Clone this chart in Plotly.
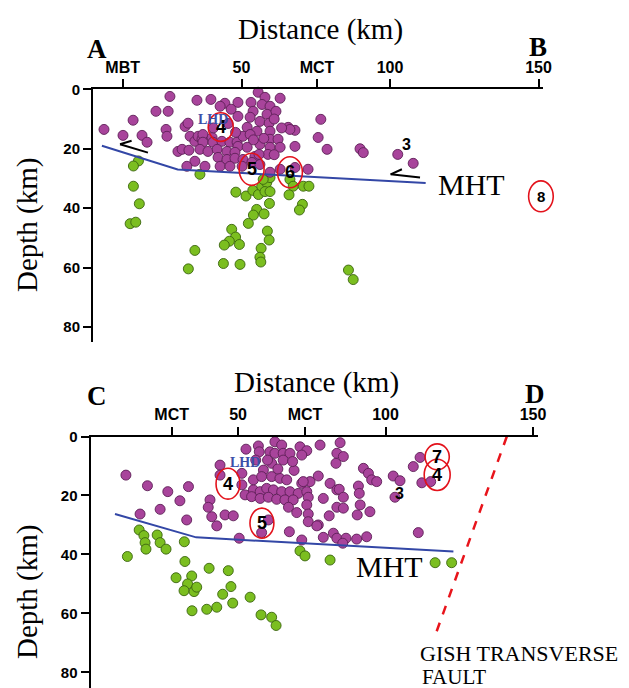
import numpy as np
import plotly.graph_objects as go

# ---------------- DATA ----------------
# Panel A-B : magenta (crustal) events, distance km / depth km
p1_mag_x = [25.9, 35.0, 39.7, 44.4, 42.8, 48.8, 46.5, 53.2, 55.6, 57.9, 56.9, 59.6, 63.0, 48.8, 53.9,
            58.6, 61.6, 52.9, 56.2, 59.3, 51.9, 55.2, 59.6, 65.7, 68.0, 21.2, 25.3, 13.5, 3.7, 10.1,
            16.5, 18.2, 24.6, 24.9, 31.0, 32.0, 32.7, 34.3, 35.4, 36.7, 37.0, 40.1, 37.0, 40.4, 43.4,
            46.1, 48.5, 50.5, 52.9, 48.8, 51.9, 56.2, 59.6, 62.3, 59.6, 63.0, 68.0, 66.3, 28.6, 30.0,
            32.3, 36.0, 38.7, 41.8, 45.1, 47.8, 42.1, 45.1, 47.8, 54.5, 58.9, 55.9, 50.5, 34.3, 31.6,
            37.7, 42.8, 46.1, 50.2, 53.5, 56.2, 59.6, 63.0, 68.0, 72.4, 76.7, 75.8, 78.8, 89.9, 91.0,
            102.6, 107.8, 61.0, 63.5, 57.5, 54.0, 61.0, 45.5, 40.5, 48.0]
p1_mag_d = [2.4, 3.7, 3.4, 4.7, 5.7, 4.4, 6.7, 4.4, 1.0, 2.7, 5.1, 5.7, 3.0, 9.1, 7.4,
            8.4, 7.4, 9.4, 10.8, 11.4, 12.8, 14.1, 14.1, 12.8, 13.8, 7.4, 7.4, 10.4, 13.5, 15.5,
            15.5, 17.8, 13.5, 15.8, 12.5, 11.4, 15.8, 17.5, 15.8, 16.8, 15.2, 16.2, 17.8, 17.8, 17.5,
            17.8, 17.8, 15.8, 15.2, 19.2, 19.5, 18.5, 16.8, 16.8, 19.5, 19.5, 19.2, 13.5, 20.9, 20.2,
            20.5, 20.2, 20.9, 20.2, 20.9, 21.2, 22.9, 23.6, 23.2, 22.6, 21.9, 21.9, 23.6, 24.2, 25.9,
            25.9, 25.9, 25.9, 25.9, 24.6, 25.3, 27.9, 26.9, 26.3, 26.9, 10.1, 16.2, 20.2, 20.0, 21.3,
            21.9, 24.9, 10.0, 13.0, 16.5, 17.0, 22.0, 11.5, 13.0, 14.5]

# Panel A-B : green (deep) events
p1_grn_x = [15.3, 13.6, 36.0, 13.6, 15.6, 12.5, 14.4, 48.1, 51.5, 53.8, 55.7, 56.8, 58.5, 59.6, 57.9,
            59.6, 59.4, 55.1, 54.0, 57.6, 52.3, 46.7, 48.0, 45.9, 44.2, 49.3, 58.7, 59.3, 56.6, 56.2,
            56.5, 34.3, 32.1, 43.9, 49.5, 66.3, 67.4, 66.0, 70.8, 72.7, 70.5, 69.5, 86.0, 87.6, 57.3]
p1_grn_d = [24.1, 25.8, 28.6, 32.6, 38.5, 45.2, 44.7, 34.6, 35.9, 34.0, 35.4, 32.6, 31.4, 29.7, 34.4,
            34.4, 38.4, 40.4, 42.3, 41.9, 45.1, 47.1, 49.7, 51.1, 52.4, 52.2, 47.7, 50.7, 53.5, 56.5,
            58.1, 54.2, 60.4, 58.6, 58.9, 30.3, 32.6, 35.5, 32.6, 32.6, 38.7, 40.6, 60.8, 64.0, 30.3]

# Panel C-D : magenta events
p2_mag_x = [12.0, 19.3, 26.2, 33.2, 30.3, 23.6, 16.8, 32.6, 42.8, 45.6, 48.4, 41.1, 40.5, 39.9, 43.9,
            43.9, 51.3, 51.3, 52.4, 52.7, 56.9, 57.2, 58.6, 61.4, 62.5, 64.8, 60.8, 62.5, 65.3, 67.6,
            65.3, 71.0, 73.3, 71.6, 77.8, 83.5, 55.2, 58.0, 61.4, 64.2, 66.5, 71.6, 74.4, 77.2, 81.2,
            83.5, 55.2, 57.5, 59.7, 62.0, 64.8, 67.6, 70.4, 73.3, 54.6, 57.5, 60.3, 63.1, 65.9, 68.7,
            73.8, 78.9, 67.1, 69.9, 73.3, 73.8, 73.8, 77.2, 80.9, 83.5, 67.4, 58.0, 60.3, 71.6, 78.9,
            82.3, 83.5, 50.4, 84.6, 85.7, 83.2, 92.5, 94.2, 95.3, 97.0, 102.6, 104.9, 103.2, 109.4,
            111.7, 112.3, 115.3, 111.1, 84.3, 85.7, 90.8, 91.1, 85.7, 91.4, 90.4, 94.7, 76.7, 86.6,
            85.5, 90.2, 93.6, 72.1, 60.0, 63.5, 69.0, 68.5, 56.0]
p2_mag_d = [13.1, 16.7, 18.7, 17.0, 21.8, 24.7, 26.3, 28.3, 30.3, 26.6, 26.9, 27.2, 21.5, 24.0, 9.7,
            13.1, 12.5, 16.4, 19.8, 4.3, 3.2, 5.2, 11.4, 9.1, 1.8, 2.9, 5.2, 5.7, 5.7, 5.7,
            8.0, 3.5, 4.8, 6.3, 2.9, 5.7, 14.7, 13.6, 13.6, 14.2, 14.7, 15.9, 15.3, 13.4, 15.9,
            18.1, 18.1, 18.7, 17.6, 18.1, 18.7, 18.7, 19.3, 18.7, 20.4, 21.0, 20.6, 21.3, 21.5, 21.5,
            20.6, 21.0, 24.0, 25.8, 23.2, 26.3, 28.9, 30.0, 26.9, 24.0, 32.3, 32.6, 28.3, 35.1, 34.2,
            32.8, 34.5, 34.5, 2.1, 6.8, 9.1, 10.8, 12.5, 14.7, 15.3, 13.4, 15.0, 20.6, 10.2,
            7.1, 15.7, 15.3, 32.6, 17.9, 20.6, 16.8, 19.3, 24.3, 23.2, 26.6, 25.5, 30.3, 34.5,
            36.2, 34.8, 34.0, 15.3, 8.0, 11.0, 11.5, 8.5, 8.0]

# Panel C-D : green events
p2_grn_x = [16.5, 18.1, 18.5, 18.8, 12.5, 22.6, 23.6, 25.6, 31.8, 32.0, 29.0, 34.3, 32.9, 31.7, 35.1,
            36.0, 40.2, 46.7, 47.6, 44.8, 48.2, 42.8, 39.4, 34.4, 54.1, 57.8, 61.4, 62.9, 71.0, 72.7,
            81.2, 116.8, 122.4]
p2_grn_d = [31.7, 33.6, 36.0, 38.2, 40.7, 33.4, 36.0, 38.2, 35.7, 42.4, 47.9, 47.3, 50.0, 52.3, 52.6,
            51.1, 44.7, 45.5, 50.9, 53.5, 56.5, 57.9, 58.6, 59.1, 54.5, 60.5, 61.3, 64.1, 38.8, 40.5,
            41.9, 42.8, 42.8]

# MHT traces
mht1_x = [3.0, 28.5, 112.0]
mht1_d = [19.0, 27.0, 31.5]
mht2_x = [8.3, 35.8, 123.0]
mht2_d = [26.3, 34.2, 39.0]

# Gish transverse fault
gish_x = [141.1, 117.1]
gish_d = [0.0, 66.7]

# slip arrows (shaft tail, tip, barb end)
arrow1_x = [18.5, 9.1, 13.0]
arrow1_d = [21.3, 18.5, 17.3]
arrow2_x = [110.1, 100.2, 104.0]
arrow2_d = [29.7, 28.6, 26.9]

# tick labels
p1_tickvals = [10, 50, 75.4, 100, 150]
p1_ticktext = ["MBT", "50", "MCT", "100", "150"]
p2_tickvals = [27.5, 50, 72.7, 100, 150]
p2_ticktext = ["MCT", "50", "MCT", "100", "150"]
depth_ticks = [0, 20, 40, 60, 80]

# circled event labels: (label, x, depth, half-width km, half-height km)
p1_circles = [("4", 43.0, 12.7, 4.2, 4.8), ("5", 53.4, 26.9, 4.2, 5.4), ("6", 66.3, 27.9, 4.2, 5.2),
              ("8", 150.8, 36.0, 4.15, 5.2)]
p2_circles = [("4", 46.6, 16.0, 4.05, 5.25), ("5", 58.1, 29.4, 4.05, 5.1), ("7", 117.5, 6.9, 4.1, 4.4),
              ("4", 117.5, 13.0, 4.4, 5.3)]

# ---------------- STYLE ----------------
W, H = 629, 688
MAG, MAG_EDGE = "#A8449B", "#5E1F57"
GRN, GRN_EDGE = "#7BBE20", "#3B6410"
SERIF = "Liberation Serif"
SANS = "Liberation Sans"

X1_DOM = [93 / W, 543 / W]
Y1_DOM = [1 - 342 / H, 1 - 89.3 / H]
X2_DOM = [90.5 / W, 537.5 / W]
Y2_DOM = [0.0, 1 - 436.5 / H]
XR = [0, 151.5]

fig = go.Figure()


def scatter(x, y, fill, edge, ax):
    fig.add_trace(go.Scatter(x=x, y=y, mode="markers", xaxis="x" + ax, yaxis="y" + ax,
                             marker=dict(size=10, color=fill, line=dict(color=edge, width=0.9)),
                             cliponaxis=False, hoverinfo="skip"))


def line(x, y, ax, color, width, dash="solid"):
    fig.add_trace(go.Scatter(x=x, y=y, mode="lines", xaxis="x" + ax, yaxis="y" + ax,
                             line=dict(color=color, width=width, dash=dash), hoverinfo="skip"))


# panel 1
scatter(p1_grn_x, p1_grn_d, GRN, GRN_EDGE, "")
scatter(p1_mag_x, p1_mag_d, MAG, MAG_EDGE, "")
line(mht1_x, mht1_d, "", "#3347A6", 2)
line(arrow1_x[:2], arrow1_d[:2], "", "black", 2)
line(arrow1_x[1:], arrow1_d[1:], "", "black", 2)
line(arrow2_x[:2], arrow2_d[:2], "", "black", 2)
line(arrow2_x[1:], arrow2_d[1:], "", "black", 2)

# panel 2
scatter(p2_grn_x, p2_grn_d, GRN, GRN_EDGE, "2")
scatter(p2_mag_x, p2_mag_d, MAG, MAG_EDGE, "2")
line(mht2_x, mht2_d, "2", "#3347A6", 2)
line(gish_x, gish_d, "2", "#E8141B", 2.5, dash="dash")


def x_paper(x, dom):
    return dom[0] + (x - XR[0]) / (XR[1] - XR[0]) * (dom[1] - dom[0])


def y_paper(d, dom, rng):
    return dom[0] + (rng[0] - d) / (rng[0] - rng[1]) * (dom[1] - dom[0])


shapes = []
annotations = []


def add_circles(circles, ax, xdom, ydom, yr):
    for lab, cx, cd, rx, ry in circles:
        shapes.append(dict(type="circle", xref="paper", yref="paper",
                           x0=x_paper(cx - rx, xdom), x1=x_paper(cx + rx, xdom),
                           y0=y_paper(cd - ry, ydom, yr), y1=y_paper(cd + ry, ydom, yr),
                           line=dict(color="#E3121B", width=1.6), layer="above"))
        annotations.append(dict(x=cx, y=cd, xref="x" + ax, yref="y" + ax, text="<b>%s</b>" % lab,
                                showarrow=False, font=dict(family=SANS, size=15 if lab == "8" else 18,
                                                           color="black")))


Y1R = [85.0, 0.0]
Y2R = [85.3, 0.0]
add_circles(p1_circles, "", X1_DOM, Y1_DOM, Y1R)
add_circles(p2_circles, "2", X2_DOM, Y2_DOM, Y2R)

# data-referenced texts
annotations += [
    dict(x=40.4, y=10.3, xref="x", yref="y", text="<b>LHD</b>", showarrow=False,
         font=dict(family=SERIF, size=14, color="#3B4FA8")),
    dict(x=105.4, y=18.5, xref="x", yref="y", text="<b>3</b>", showarrow=False,
         font=dict(family=SANS, size=16, color="black")),
    dict(x=127.5, y=32.0, xref="x", yref="y", text="MHT", showarrow=False,
         font=dict(family=SERIF, size=30, color="black")),
    dict(x=52.4, y=8.9, xref="x2", yref="y2", text="<b>LHD</b>", showarrow=False,
         font=dict(family=SERIF, size=14, color="#3B4FA8")),
    dict(x=104.6, y=19.5, xref="x2", yref="y2", text="<b>3</b>", showarrow=False,
         font=dict(family=SANS, size=16, color="black")),
    dict(x=101.5, y=44.0, xref="x2", yref="y2", text="MHT", showarrow=False,
         font=dict(family=SERIF, size=30, color="black")),
]


def pap(px, py, text, size, bold=False, angle=0, xanchor="center", family=SERIF):
    annotations.append(dict(x=px / W, y=1 - py / H, xref="paper", yref="paper",
                            text=("<b>%s</b>" % text) if bold else text, showarrow=False,
                            textangle=angle, xanchor=xanchor, yanchor="middle",
                            font=dict(family=family, size=size, color="black")))


pap(320, 30, "Distance (km)", 29)
pap(97, 49, "A", 27, bold=True)
pap(538, 47, "B", 27, bold=True)
pap(27, 225, "Depth (km)", 29, angle=-90)
pap(317, 382, "Distance (km)", 29)
pap(97, 396, "C", 27, bold=True)
pap(535, 394, "D", 27, bold=True)
pap(27, 592, "Depth (km)", 29, angle=-90)
pap(418, 653, "GISH TRANSVERSE", 22, xanchor="left")
pap(420, 677, "FAULT", 21, xanchor="left")

xcommon = dict(range=XR, side="top", showline=True, linewidth=2, linecolor="black",
               ticks="outside", ticklen=8, tickwidth=2, tickcolor="black", showgrid=False,
               zeroline=False, tickfont=dict(family=SANS, size=16, color="black"),
               fixedrange=True, automargin=False)
ycommon = dict(showline=True, linewidth=2, linecolor="black", ticks="outside", ticklen=8,
               tickwidth=2, tickcolor="black", showgrid=False, zeroline=False,
               tickvals=depth_ticks, ticktext=["<b>%d</b>" % v for v in depth_ticks],
               tickfont=dict(family=SANS, size=15, color="black"), fixedrange=True,
               automargin=False)

fig.update_layout(
    width=W, height=H, margin=dict(l=0, r=0, t=0, b=0, pad=0, autoexpand=False),
    paper_bgcolor="white", plot_bgcolor="white", showlegend=False,
    xaxis=dict(xcommon, domain=X1_DOM, anchor="y", tickvals=p1_tickvals,
               ticktext=["<b>%s</b>" % t for t in p1_ticktext]),
    yaxis=dict(ycommon, domain=Y1_DOM, anchor="x", range=Y1R),
    xaxis2=dict(xcommon, domain=X2_DOM, anchor="y2", tickvals=p2_tickvals,
                ticktext=["<b>%s</b>" % t for t in p2_ticktext]),
    yaxis2=dict(ycommon, domain=Y2_DOM, anchor="x2", range=Y2R),
    shapes=shapes, annotations=annotations,
)

fig.write_html("out.html", config={"displayModeBar": False},
               post_script="document.body.style.margin='0';document.body.style.overflow='hidden';")
